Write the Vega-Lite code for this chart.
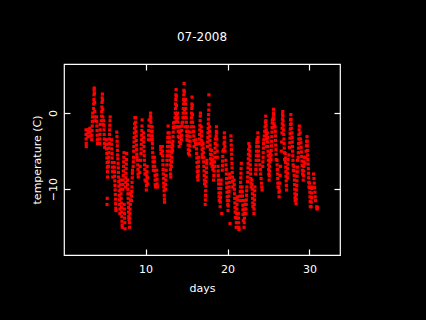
{
"$schema": "https://vega.github.io/schema/vega-lite/v6.json",
"width": 276, "height": 191,
"autosize": {"type": "none"},
"padding": {"left": 64, "top": 64, "right": 86, "bottom": 65},
"background": "black",
"config": {
  "view": {"stroke": "white", "strokeWidth": 1.2},
  "font": "DejaVu Sans",
  "axis": {"domain": false, "grid": false, "tickColor": "white", "tickSize": -6, "tickWidth": 1.2, "labelColor": "white", "labelFontSize": 11, "labelFont": "DejaVu Sans", "titleColor": "white", "titleFontSize": 11, "titleFontWeight": "normal", "titleFont": "DejaVu Sans"}
},
"title": {"text": "07-2008", "color": "white", "fontSize": 12, "fontWeight": "normal", "font": "DejaVu Sans", "offset": 19, "anchor": "middle"},
"data": {"values": [
{"day":2.74,"temp":-2.2},{"day":2.75,"temp":-2.8},{"day":2.76,"temp":-3.4},{"day":2.77,"temp":-4.0},{"day":2.78,"temp":-4.4},
{"day":2.97,"temp":-3.1},{"day":2.99,"temp":-2.6},{"day":3.01,"temp":-2.2},
{"day":3.21,"temp":-2.0},{"day":3.23,"temp":-2.5},{"day":3.25,"temp":-3.0},
{"day":3.44,"temp":-3.5},{"day":3.46,"temp":-2.9},{"day":3.48,"temp":-2.3},{"day":3.50,"temp":-1.7},{"day":3.52,"temp":-1.1},{"day":3.54,"temp":-0.5},{"day":3.56,"temp":0.0},
{"day":3.66,"temp":0.6},{"day":3.68,"temp":1.2},{"day":3.70,"temp":1.8},{"day":3.72,"temp":2.4},{"day":3.74,"temp":3.0},{"day":3.75,"temp":3.3},{"day":3.77,"temp":2.6},{"day":3.79,"temp":1.4},{"day":3.81,"temp":0.2},{"day":3.83,"temp":-0.5},{"day":3.85,"temp":-1.0},
{"day":4.03,"temp":-0.5},{"day":4.05,"temp":-1.1},{"day":4.07,"temp":-1.7},{"day":4.09,"temp":-2.3},{"day":4.11,"temp":-2.9},{"day":4.13,"temp":-3.5},{"day":4.15,"temp":-4.0},
{"day":4.40,"temp":-4.0},{"day":4.42,"temp":-3.4},{"day":4.44,"temp":-2.8},{"day":4.46,"temp":-2.2},{"day":4.48,"temp":-1.5},
{"day":4.62,"temp":-1.0},{"day":4.64,"temp":-0.4},{"day":4.66,"temp":0.2},{"day":4.68,"temp":0.8},{"day":4.70,"temp":1.4},{"day":4.72,"temp":2.0},{"day":4.74,"temp":2.5},{"day":4.76,"temp":1.7},{"day":4.78,"temp":0.5},{"day":4.80,"temp":-0.5},{"day":4.82,"temp":-1.5},
{"day":4.90,"temp":-1.0},{"day":4.92,"temp":-1.6},{"day":4.94,"temp":-2.2},{"day":4.96,"temp":-2.8},{"day":4.98,"temp":-3.4},{"day":5.00,"temp":-4.0},{"day":5.02,"temp":-4.5},
{"day":5.22,"temp":-3.5},{"day":5.24,"temp":-4.1},{"day":5.26,"temp":-4.7},{"day":5.28,"temp":-5.3},{"day":5.30,"temp":-5.9},{"day":5.32,"temp":-6.5},{"day":5.34,"temp":-7.1},{"day":5.36,"temp":-7.7},{"day":5.38,"temp":-8.4},{"day":5.31,"temp":-12.0},{"day":5.33,"temp":-11.2},
{"day":5.47,"temp":-7.0},{"day":5.49,"temp":-6.4},{"day":5.51,"temp":-5.8},{"day":5.53,"temp":-5.2},{"day":5.55,"temp":-4.6},{"day":5.57,"temp":-4.0},{"day":5.59,"temp":-3.4},{"day":5.61,"temp":-2.8},{"day":5.63,"temp":-2.2},{"day":5.65,"temp":-1.6},{"day":5.67,"temp":-1.0},{"day":5.69,"temp":-0.5},
{"day":5.85,"temp":-3.5},{"day":5.87,"temp":-4.1},{"day":5.89,"temp":-4.7},{"day":5.91,"temp":-5.3},{"day":5.93,"temp":-5.9},{"day":5.95,"temp":-6.5},{"day":5.97,"temp":-7.1},{"day":5.99,"temp":-7.7},{"day":6.01,"temp":-8.4},
{"day":6.18,"temp":-6.5},{"day":6.20,"temp":-7.1},{"day":6.22,"temp":-7.7},{"day":6.24,"temp":-8.3},{"day":6.26,"temp":-8.9},{"day":6.28,"temp":-9.5},{"day":6.30,"temp":-10.1},{"day":6.32,"temp":-10.7},{"day":6.34,"temp":-11.3},{"day":6.36,"temp":-11.9},{"day":6.38,"temp":-12.5},{"day":6.40,"temp":-12.8},
{"day":6.50,"temp":-2.5},{"day":6.52,"temp":-3.1},{"day":6.54,"temp":-3.7},{"day":6.56,"temp":-4.3},{"day":6.58,"temp":-4.9},{"day":6.60,"temp":-5.5},{"day":6.62,"temp":-6.0},
{"day":6.66,"temp":-6.6},{"day":6.68,"temp":-7.2},{"day":6.70,"temp":-7.8},{"day":6.72,"temp":-8.4},{"day":6.74,"temp":-9.0},{"day":6.76,"temp":-9.6},{"day":6.78,"temp":-10.2},{"day":6.80,"temp":-10.8},{"day":6.82,"temp":-11.4},{"day":6.84,"temp":-12.0},{"day":6.86,"temp":-12.6},{"day":6.88,"temp":-13.2},
{"day":6.95,"temp":-8.8},{"day":6.97,"temp":-9.4},{"day":6.99,"temp":-10.0},{"day":7.01,"temp":-10.6},{"day":7.03,"temp":-11.2},{"day":7.05,"temp":-11.8},{"day":7.07,"temp":-12.4},{"day":7.09,"temp":-13.0},{"day":7.11,"temp":-13.6},{"day":7.13,"temp":-14.2},{"day":7.15,"temp":-14.7},{"day":7.17,"temp":-15.0},
{"day":7.22,"temp":-10.0},{"day":7.24,"temp":-9.4},{"day":7.26,"temp":-8.8},{"day":7.28,"temp":-8.2},{"day":7.30,"temp":-7.6},{"day":7.32,"temp":-7.0},{"day":7.34,"temp":-6.4},{"day":7.36,"temp":-5.8},{"day":7.38,"temp":-5.2},
{"day":7.40,"temp":-12.0},{"day":7.42,"temp":-12.6},{"day":7.44,"temp":-13.2},{"day":7.46,"temp":-13.8},{"day":7.48,"temp":-14.4},{"day":7.50,"temp":-15.2},
{"day":7.56,"temp":-9.7},{"day":7.58,"temp":-9.1},{"day":7.60,"temp":-8.5},{"day":7.62,"temp":-7.9},{"day":7.64,"temp":-7.3},{"day":7.66,"temp":-6.7},{"day":7.68,"temp":-6.1},{"day":7.70,"temp":-5.3},
{"day":7.80,"temp":-8.8},{"day":7.82,"temp":-9.4},{"day":7.84,"temp":-10.0},{"day":7.86,"temp":-10.6},{"day":7.88,"temp":-11.2},{"day":7.90,"temp":-11.8},{"day":7.92,"temp":-12.4},{"day":7.94,"temp":-13.0},{"day":7.96,"temp":-13.6},{"day":7.98,"temp":-14.0},
{"day":8.04,"temp":-15.0},{"day":8.06,"temp":-14.4},{"day":8.08,"temp":-13.8},{"day":8.10,"temp":-13.2},{"day":8.12,"temp":-12.6},{"day":8.14,"temp":-12.0},{"day":8.16,"temp":-11.4},{"day":8.18,"temp":-10.6},
{"day":8.28,"temp":-11.5},{"day":8.30,"temp":-10.9},{"day":8.32,"temp":-10.3},{"day":8.34,"temp":-9.7},{"day":8.36,"temp":-9.1},{"day":8.38,"temp":-8.5},{"day":8.40,"temp":-7.9},{"day":8.42,"temp":-7.5},
{"day":8.50,"temp":-7.0},{"day":8.52,"temp":-6.4},{"day":8.54,"temp":-5.8},{"day":8.56,"temp":-5.0},{"day":8.58,"temp":-4.4},{"day":8.60,"temp":-3.8},{"day":8.62,"temp":-3.2},{"day":8.64,"temp":-2.6},{"day":8.66,"temp":-2.0},{"day":8.68,"temp":-1.4},{"day":8.70,"temp":-0.6},
{"day":8.78,"temp":-0.6},{"day":8.80,"temp":-1.2},{"day":8.82,"temp":-1.8},{"day":8.84,"temp":-2.4},{"day":8.86,"temp":-3.0},{"day":8.88,"temp":-3.6},{"day":8.90,"temp":-4.2},{"day":8.92,"temp":-4.8},{"day":8.94,"temp":-5.4},{"day":8.96,"temp":-5.8},
{"day":9.04,"temp":-6.2},{"day":9.06,"temp":-6.8},{"day":9.08,"temp":-7.4},{"day":9.10,"temp":-8.0},{"day":9.12,"temp":-8.4},
{"day":9.30,"temp":-7.8},{"day":9.35,"temp":-7.0},{"day":9.40,"temp":-6.2},{"day":9.45,"temp":-5.3},{"day":9.47,"temp":-4.7},{"day":9.49,"temp":-4.1},{"day":9.51,"temp":-3.5},{"day":9.53,"temp":-2.9},{"day":9.55,"temp":-2.3},{"day":9.57,"temp":-1.7},{"day":9.59,"temp":-0.9},
{"day":9.75,"temp":-2.6},{"day":9.77,"temp":-3.2},{"day":9.79,"temp":-3.8},{"day":9.81,"temp":-4.4},{"day":9.83,"temp":-5.0},{"day":9.85,"temp":-5.6},{"day":9.87,"temp":-6.2},{"day":9.89,"temp":-6.8},{"day":9.91,"temp":-7.4},{"day":9.93,"temp":-8.0},{"day":9.95,"temp":-8.8},
{"day":10.05,"temp":-8.0},{"day":10.07,"temp":-9.0},{"day":10.10,"temp":-10.1},{"day":10.12,"temp":-9.5},{"day":10.14,"temp":-8.9},{"day":10.16,"temp":-8.3},{"day":10.18,"temp":-7.7},{"day":10.20,"temp":-7.0},{"day":10.25,"temp":-8.5},{"day":10.27,"temp":-9.3},
{"day":10.36,"temp":-3.5},{"day":10.38,"temp":-2.9},{"day":10.40,"temp":-2.3},{"day":10.42,"temp":-1.7},{"day":10.44,"temp":-0.9},
{"day":10.58,"temp":-1.0},{"day":10.60,"temp":-0.4},{"day":10.62,"temp":0.0},{"day":10.64,"temp":-0.6},{"day":10.66,"temp":-1.2},{"day":10.68,"temp":-1.8},{"day":10.70,"temp":-2.4},{"day":10.72,"temp":-3.0},{"day":10.74,"temp":-3.5},
{"day":10.80,"temp":-1.8},{"day":10.81,"temp":-2.4},{"day":10.82,"temp":-3.0},{"day":10.83,"temp":-3.5},{"day":10.84,"temp":-4.0},{"day":10.86,"temp":-4.6},{"day":10.88,"temp":-5.2},{"day":10.90,"temp":-5.8},{"day":10.92,"temp":-6.4},{"day":10.94,"temp":-7.0},{"day":10.96,"temp":-7.5},
{"day":11.08,"temp":-5.8},{"day":11.10,"temp":-6.4},{"day":11.12,"temp":-7.0},{"day":11.14,"temp":-7.6},{"day":11.16,"temp":-8.2},{"day":11.18,"temp":-8.8},{"day":11.20,"temp":-9.4},{"day":11.22,"temp":-9.7},
{"day":11.36,"temp":-7.5},{"day":11.38,"temp":-8.1},{"day":11.40,"temp":-8.7},{"day":11.42,"temp":-9.3},{"day":11.44,"temp":-9.7},
{"day":11.85,"temp":-4.4},{"day":11.87,"temp":-4.8},{"day":11.89,"temp":-5.3},
{"day":12.05,"temp":-4.4},{"day":12.07,"temp":-5.0},{"day":12.09,"temp":-5.6},{"day":12.11,"temp":-6.2},{"day":12.13,"temp":-6.8},{"day":12.15,"temp":-7.4},{"day":12.17,"temp":-8.0},{"day":12.19,"temp":-8.6},{"day":12.21,"temp":-9.2},{"day":12.23,"temp":-9.7},
{"day":12.27,"temp":-10.2},{"day":12.29,"temp":-10.8},{"day":12.31,"temp":-11.3},{"day":12.33,"temp":-11.7},
{"day":12.44,"temp":-10.0},{"day":12.46,"temp":-9.4},{"day":12.48,"temp":-8.8},{"day":12.50,"temp":-8.2},{"day":12.52,"temp":-7.5},
{"day":12.60,"temp":-6.8},{"day":12.62,"temp":-6.2},{"day":12.64,"temp":-5.6},{"day":12.66,"temp":-5.0},{"day":12.68,"temp":-4.4},{"day":12.70,"temp":-3.8},{"day":12.72,"temp":-3.2},{"day":12.74,"temp":-2.6},{"day":12.76,"temp":-1.7},
{"day":12.88,"temp":-2.6},{"day":12.90,"temp":-3.2},{"day":12.92,"temp":-3.8},{"day":12.94,"temp":-4.4},{"day":12.96,"temp":-5.0},{"day":12.98,"temp":-5.6},{"day":13.00,"temp":-6.2},{"day":13.02,"temp":-6.8},{"day":13.04,"temp":-7.4},{"day":13.06,"temp":-8.0},{"day":13.08,"temp":-8.4},
{"day":13.16,"temp":-7.0},{"day":13.18,"temp":-6.4},{"day":13.20,"temp":-5.8},{"day":13.22,"temp":-5.2},{"day":13.24,"temp":-4.6},{"day":13.26,"temp":-4.0},
{"day":13.30,"temp":-4.9},{"day":13.32,"temp":-4.3},{"day":13.34,"temp":-3.7},{"day":13.36,"temp":-3.1},{"day":13.38,"temp":-2.5},{"day":13.40,"temp":-1.9},{"day":13.42,"temp":-1.3},
{"day":13.52,"temp":-1.8},{"day":13.56,"temp":-1.2},{"day":13.60,"temp":-0.6},{"day":13.63,"temp":0.0},{"day":13.65,"temp":0.6},{"day":13.67,"temp":1.2},{"day":13.69,"temp":1.8},{"day":13.71,"temp":2.4},{"day":13.73,"temp":3.1},{"day":13.75,"temp":2.2},{"day":13.77,"temp":1.0},{"day":13.79,"temp":-0.2},{"day":13.81,"temp":-1.0},{"day":13.83,"temp":-1.8},
{"day":13.90,"temp":0.0},{"day":13.92,"temp":-0.6},{"day":13.94,"temp":-1.2},{"day":13.96,"temp":-1.8},{"day":13.98,"temp":-2.4},{"day":14.00,"temp":-3.1},
{"day":14.10,"temp":-4.4},{"day":14.12,"temp":-3.8},{"day":14.14,"temp":-3.2},{"day":14.16,"temp":-2.6},{"day":14.18,"temp":-1.8},{"day":14.24,"temp":-2.4},{"day":14.26,"temp":-3.2},{"day":14.28,"temp":-4.0},
{"day":14.38,"temp":-3.5},{"day":14.40,"temp":-2.9},{"day":14.42,"temp":-2.3},{"day":14.44,"temp":-1.7},{"day":14.46,"temp":-1.3},
{"day":14.54,"temp":-1.2},{"day":14.57,"temp":-0.6},{"day":14.59,"temp":0.0},{"day":14.61,"temp":0.6},{"day":14.63,"temp":1.2},{"day":14.65,"temp":1.8},{"day":14.67,"temp":2.4},{"day":14.69,"temp":3.0},{"day":14.71,"temp":3.9},{"day":14.73,"temp":2.8},{"day":14.75,"temp":1.6},{"day":14.77,"temp":0.4},{"day":14.79,"temp":-0.6},{"day":14.81,"temp":-1.8},
{"day":14.88,"temp":1.8},{"day":14.90,"temp":1.2},{"day":14.92,"temp":0.6},{"day":14.94,"temp":0.0},{"day":14.96,"temp":-0.6},{"day":14.98,"temp":-1.2},{"day":15.00,"temp":-1.8},{"day":15.02,"temp":-2.4},{"day":15.04,"temp":-3.0},{"day":15.06,"temp":-3.5},
{"day":15.12,"temp":-1.8},{"day":15.14,"temp":-2.4},{"day":15.16,"temp":-3.0},{"day":15.18,"temp":-3.6},{"day":15.20,"temp":-4.2},{"day":15.22,"temp":-4.8},{"day":15.24,"temp":-5.3},
{"day":15.36,"temp":-5.5},{"day":15.38,"temp":-4.9},{"day":15.40,"temp":-4.3},{"day":15.42,"temp":-3.7},{"day":15.44,"temp":-3.1},{"day":15.46,"temp":-2.5},
{"day":15.56,"temp":-1.8},{"day":15.58,"temp":-1.2},{"day":15.60,"temp":-0.6},{"day":15.62,"temp":0.0},{"day":15.64,"temp":0.6},{"day":15.66,"temp":1.2},{"day":15.68,"temp":2.1},{"day":15.70,"temp":1.0},{"day":15.72,"temp":-0.2},{"day":15.74,"temp":-1.2},
{"day":15.84,"temp":-1.8},{"day":15.86,"temp":-2.4},{"day":15.88,"temp":-3.0},{"day":15.90,"temp":-3.6},{"day":15.92,"temp":-4.4},
{"day":16.10,"temp":-4.0},{"day":16.15,"temp":-3.5},{"day":16.20,"temp":-4.1},{"day":16.22,"temp":-4.7},{"day":16.24,"temp":-5.3},{"day":16.26,"temp":-5.9},{"day":16.28,"temp":-6.5},{"day":16.30,"temp":-7.1},{"day":16.32,"temp":-7.7},{"day":16.34,"temp":-8.4},
{"day":16.40,"temp":-8.8},{"day":16.42,"temp":-8.2},{"day":16.44,"temp":-7.6},{"day":16.46,"temp":-7.0},{"day":16.48,"temp":-6.4},{"day":16.50,"temp":-5.8},
{"day":16.56,"temp":-4.0},{"day":16.58,"temp":-3.4},{"day":16.60,"temp":-2.8},{"day":16.62,"temp":-2.2},{"day":16.64,"temp":-1.6},{"day":16.66,"temp":-1.0},{"day":16.68,"temp":-0.4},{"day":16.70,"temp":0.0},
{"day":16.80,"temp":-1.8},{"day":16.82,"temp":-2.4},{"day":16.84,"temp":-3.0},{"day":16.86,"temp":-3.6},{"day":16.88,"temp":-4.2},{"day":16.90,"temp":-4.8},{"day":16.92,"temp":-5.4},{"day":16.94,"temp":-5.8},
{"day":17.02,"temp":-4.0},{"day":17.04,"temp":-4.6},{"day":17.06,"temp":-5.2},{"day":17.08,"temp":-5.8},{"day":17.10,"temp":-6.4},{"day":17.12,"temp":-7.0},{"day":17.14,"temp":-7.6},{"day":17.16,"temp":-8.2},{"day":17.18,"temp":-8.8},{"day":17.20,"temp":-9.3},
{"day":17.28,"temp":-12.0},{"day":17.30,"temp":-11.4},{"day":17.32,"temp":-10.8},{"day":17.34,"temp":-10.2},{"day":17.36,"temp":-9.6},{"day":17.38,"temp":-9.0},{"day":17.40,"temp":-8.4},{"day":17.42,"temp":-7.8},{"day":17.44,"temp":-7.2},{"day":17.46,"temp":-6.6},{"day":17.48,"temp":-6.2},
{"day":17.56,"temp":-4.4},{"day":17.58,"temp":-3.8},{"day":17.60,"temp":-3.2},{"day":17.62,"temp":-2.6},{"day":17.64,"temp":-2.0},{"day":17.66,"temp":-1.4},{"day":17.68,"temp":-0.8},{"day":17.70,"temp":-0.2},{"day":17.72,"temp":0.4},{"day":17.74,"temp":1.1},{"day":17.73,"temp":2.4},
{"day":17.80,"temp":-1.8},{"day":17.82,"temp":-2.4},{"day":17.84,"temp":-3.0},{"day":17.86,"temp":-3.6},{"day":17.88,"temp":-4.2},{"day":17.90,"temp":-4.8},{"day":17.92,"temp":-5.4},{"day":17.94,"temp":-6.0},{"day":17.96,"temp":-6.6},
{"day":18.04,"temp":-4.9},{"day":18.06,"temp":-5.5},{"day":18.08,"temp":-6.1},{"day":18.10,"temp":-6.6},{"day":18.12,"temp":-7.0},{"day":18.15,"temp":-6.2},{"day":18.18,"temp":-6.8},{"day":18.22,"temp":-7.4},
{"day":18.30,"temp":-8.8},{"day":18.33,"temp":-8.2},{"day":18.36,"temp":-7.6},{"day":18.40,"temp":-7.0},{"day":18.42,"temp":-6.4},{"day":18.44,"temp":-5.8},{"day":18.46,"temp":-5.2},{"day":18.48,"temp":-4.6},{"day":18.50,"temp":-4.0},{"day":18.52,"temp":-3.4},
{"day":18.62,"temp":-3.0},{"day":18.64,"temp":-2.4},{"day":18.66,"temp":-1.8},{"day":18.68,"temp":-2.6},{"day":18.70,"temp":-3.4},{"day":18.72,"temp":-4.2},{"day":18.74,"temp":-5.0},{"day":18.76,"temp":-5.8},
{"day":18.84,"temp":-7.0},{"day":18.86,"temp":-7.6},{"day":18.88,"temp":-8.2},{"day":18.90,"temp":-8.8},{"day":18.92,"temp":-9.3},{"day":18.94,"temp":-9.9},{"day":18.96,"temp":-10.5},{"day":18.98,"temp":-11.0},{"day":19.00,"temp":-11.5},
{"day":19.10,"temp":-12.3},{"day":19.12,"temp":-11.7},{"day":19.14,"temp":-11.1},{"day":19.16,"temp":-10.5},{"day":19.18,"temp":-9.9},{"day":19.20,"temp":-9.3},{"day":19.22,"temp":-8.8},
{"day":19.30,"temp":-13.2},{"day":19.36,"temp":-7.5},{"day":19.38,"temp":-6.9},{"day":19.40,"temp":-6.3},{"day":19.42,"temp":-5.7},{"day":19.44,"temp":-5.0},
{"day":19.55,"temp":-4.8},{"day":19.58,"temp":-4.0},{"day":19.60,"temp":-3.2},{"day":19.62,"temp":-2.6},{"day":19.64,"temp":-3.2},{"day":19.66,"temp":-3.8},{"day":19.68,"temp":-4.4},{"day":19.70,"temp":-5.0},
{"day":19.80,"temp":-6.2},{"day":19.82,"temp":-6.8},{"day":19.84,"temp":-7.4},{"day":19.86,"temp":-8.0},{"day":19.88,"temp":-8.6},{"day":19.90,"temp":-9.2},{"day":19.92,"temp":-9.8},{"day":19.94,"temp":-10.4},{"day":19.96,"temp":-11.0},{"day":19.98,"temp":-11.5},
{"day":20.04,"temp":-12.0},{"day":20.06,"temp":-12.8},{"day":20.08,"temp":-12.2},
{"day":20.14,"temp":-11.5},{"day":20.16,"temp":-10.9},{"day":20.18,"temp":-10.3},{"day":20.20,"temp":-9.7},{"day":20.22,"temp":-9.1},{"day":20.24,"temp":-8.5},{"day":20.26,"temp":-8.0},{"day":20.30,"temp":-14.5},
{"day":20.42,"temp":-3.0},{"day":20.44,"temp":-3.6},{"day":20.46,"temp":-4.2},{"day":20.48,"temp":-4.8},{"day":20.50,"temp":-5.4},{"day":20.52,"temp":-6.0},{"day":20.54,"temp":-6.6},{"day":20.56,"temp":-7.2},{"day":20.58,"temp":-7.8},{"day":20.60,"temp":-8.4},{"day":20.62,"temp":-9.0},{"day":20.64,"temp":-9.7},
{"day":20.80,"temp":-8.8},{"day":20.82,"temp":-9.4},{"day":20.84,"temp":-10.0},{"day":20.86,"temp":-10.6},{"day":20.88,"temp":-11.2},{"day":20.90,"temp":-11.8},{"day":20.92,"temp":-12.4},{"day":20.94,"temp":-13.0},{"day":20.96,"temp":-13.7},
{"day":21.06,"temp":-15.0},{"day":21.08,"temp":-14.4},{"day":21.10,"temp":-13.8},{"day":21.12,"temp":-13.2},{"day":21.14,"temp":-12.6},{"day":21.16,"temp":-12.0},{"day":21.18,"temp":-11.4},{"day":21.20,"temp":-11.0},
{"day":21.32,"temp":-13.2},{"day":21.34,"temp":-13.8},{"day":21.36,"temp":-14.4},{"day":21.38,"temp":-15.0},{"day":21.40,"temp":-15.3},
{"day":21.52,"temp":-11.5},{"day":21.54,"temp":-10.9},{"day":21.56,"temp":-10.3},{"day":21.58,"temp":-9.7},{"day":21.60,"temp":-9.1},{"day":21.62,"temp":-8.5},{"day":21.64,"temp":-7.9},{"day":21.66,"temp":-7.3},{"day":21.68,"temp":-6.6},
{"day":21.78,"temp":-9.7},{"day":21.80,"temp":-10.3},{"day":21.82,"temp":-10.9},{"day":21.84,"temp":-11.5},{"day":21.86,"temp":-12.1},{"day":21.88,"temp":-12.7},{"day":21.90,"temp":-13.3},{"day":21.92,"temp":-14.1},
{"day":22.02,"temp":-15.0},{"day":22.04,"temp":-14.4},{"day":22.06,"temp":-13.8},{"day":22.08,"temp":-13.2},{"day":22.10,"temp":-12.6},{"day":22.12,"temp":-12.0},{"day":22.14,"temp":-11.5},
{"day":22.24,"temp":-13.2},{"day":22.26,"temp":-12.6},{"day":22.28,"temp":-12.0},{"day":22.30,"temp":-11.4},{"day":22.32,"temp":-10.8},{"day":22.34,"temp":-10.2},{"day":22.36,"temp":-9.7},
{"day":22.44,"temp":-9.0},{"day":22.46,"temp":-8.4},{"day":22.48,"temp":-7.8},{"day":22.50,"temp":-7.2},{"day":22.52,"temp":-6.6},{"day":22.54,"temp":-6.0},{"day":22.56,"temp":-5.4},{"day":22.58,"temp":-4.8},{"day":22.60,"temp":-4.0},
{"day":22.70,"temp":-4.4},{"day":22.72,"temp":-5.0},{"day":22.74,"temp":-5.6},{"day":22.76,"temp":-6.2},{"day":22.78,"temp":-6.8},{"day":22.80,"temp":-7.4},{"day":22.82,"temp":-8.0},{"day":22.84,"temp":-8.6},{"day":22.86,"temp":-9.2},{"day":22.88,"temp":-9.7},
{"day":22.98,"temp":-8.8},{"day":23.00,"temp":-9.4},{"day":23.02,"temp":-10.0},{"day":23.04,"temp":-10.6},{"day":23.06,"temp":-11.2},{"day":23.08,"temp":-11.8},{"day":23.10,"temp":-12.3},
{"day":23.22,"temp":-13.2},{"day":23.24,"temp":-12.6},{"day":23.26,"temp":-12.0},{"day":23.28,"temp":-11.4},{"day":23.30,"temp":-10.8},{"day":23.32,"temp":-10.2},{"day":23.34,"temp":-9.7},
{"day":23.44,"temp":-8.0},{"day":23.46,"temp":-7.4},{"day":23.48,"temp":-6.8},{"day":23.50,"temp":-6.2},{"day":23.52,"temp":-5.6},{"day":23.54,"temp":-5.0},{"day":23.56,"temp":-4.4},{"day":23.58,"temp":-3.9},{"day":23.60,"temp":-3.5},
{"day":23.70,"temp":-2.6},{"day":23.72,"temp":-3.2},{"day":23.74,"temp":-3.8},{"day":23.76,"temp":-4.4},{"day":23.78,"temp":-5.0},{"day":23.80,"temp":-5.6},{"day":23.82,"temp":-6.2},
{"day":23.95,"temp":-6.8},{"day":24.00,"temp":-7.4},{"day":24.05,"temp":-8.0},{"day":24.10,"temp":-8.6},{"day":24.14,"temp":-9.2},{"day":24.18,"temp":-9.7},{"day":24.22,"temp":-10.1},
{"day":24.30,"temp":-7.0},{"day":24.32,"temp":-6.4},{"day":24.34,"temp":-5.8},{"day":24.36,"temp":-5.2},{"day":24.38,"temp":-4.6},{"day":24.40,"temp":-4.0},{"day":24.42,"temp":-3.5},
{"day":24.50,"temp":-3.0},{"day":24.54,"temp":-2.4},{"day":24.58,"temp":-1.8},{"day":24.62,"temp":-1.2},{"day":24.66,"temp":-0.4},{"day":24.68,"temp":-1.0},{"day":24.70,"temp":-1.6},{"day":24.72,"temp":-2.2},{"day":24.74,"temp":-2.8},{"day":24.76,"temp":-3.4},{"day":24.78,"temp":-4.4},
{"day":24.86,"temp":-2.6},{"day":24.88,"temp":-3.2},{"day":24.90,"temp":-3.8},{"day":24.92,"temp":-4.4},{"day":24.94,"temp":-5.0},{"day":24.96,"temp":-5.6},{"day":24.98,"temp":-6.2},{"day":25.00,"temp":-6.8},{"day":25.02,"temp":-7.4},{"day":25.04,"temp":-8.0},
{"day":25.08,"temp":-8.8},{"day":25.10,"temp":-8.2},{"day":25.12,"temp":-7.6},{"day":25.14,"temp":-7.0},{"day":25.16,"temp":-6.4},{"day":25.18,"temp":-5.8},{"day":25.20,"temp":-5.3},
{"day":25.30,"temp":-6.1},{"day":25.32,"temp":-5.5},{"day":25.34,"temp":-4.9},{"day":25.36,"temp":-4.3},{"day":25.38,"temp":-3.7},{"day":25.40,"temp":-3.1},{"day":25.42,"temp":-2.5},{"day":25.44,"temp":-1.9},{"day":25.46,"temp":-1.3},{"day":25.48,"temp":-0.9},
{"day":25.58,"temp":-0.6},{"day":25.60,"temp":0.0},{"day":25.62,"temp":0.5},{"day":25.64,"temp":-0.2},{"day":25.66,"temp":-0.8},{"day":25.68,"temp":-1.4},{"day":25.70,"temp":-1.8},
{"day":25.80,"temp":-1.8},{"day":25.82,"temp":-2.4},{"day":25.84,"temp":-3.0},{"day":25.86,"temp":-3.6},{"day":25.88,"temp":-4.2},{"day":25.90,"temp":-4.8},{"day":25.92,"temp":-5.4},{"day":25.94,"temp":-6.1},
{"day":26.04,"temp":-6.2},{"day":26.06,"temp":-6.8},{"day":26.08,"temp":-7.4},{"day":26.10,"temp":-8.0},{"day":26.12,"temp":-8.6},{"day":26.14,"temp":-9.2},{"day":26.16,"temp":-9.7},
{"day":26.26,"temp":-9.8},{"day":26.28,"temp":-10.4},{"day":26.30,"temp":-11.0},{"day":26.34,"temp":-10.2},{"day":26.38,"temp":-9.2},{"day":26.42,"temp":-8.2},{"day":26.46,"temp":-7.0},
{"day":26.56,"temp":-5.0},{"day":26.60,"temp":-3.8},{"day":26.64,"temp":-2.6},{"day":26.66,"temp":-2.0},{"day":26.68,"temp":-1.4},{"day":26.70,"temp":-0.8},{"day":26.72,"temp":-0.2},{"day":26.74,"temp":0.2},{"day":26.76,"temp":-0.4},{"day":26.78,"temp":-1.0},{"day":26.80,"temp":-1.6},
{"day":26.84,"temp":-2.2},{"day":26.86,"temp":-2.8},{"day":26.88,"temp":-3.4},{"day":26.90,"temp":-4.0},{"day":26.92,"temp":-4.6},{"day":26.94,"temp":-5.2},{"day":26.96,"temp":-6.1},
{"day":27.04,"temp":-5.3},{"day":27.06,"temp":-5.9},{"day":27.08,"temp":-6.5},{"day":27.10,"temp":-7.1},{"day":27.12,"temp":-7.7},{"day":27.14,"temp":-8.3},{"day":27.16,"temp":-8.9},{"day":27.18,"temp":-9.5},{"day":27.20,"temp":-10.1},
{"day":27.30,"temp":-8.5},{"day":27.32,"temp":-7.9},{"day":27.34,"temp":-7.3},{"day":27.36,"temp":-6.7},{"day":27.38,"temp":-6.1},
{"day":27.50,"temp":-5.5},{"day":27.55,"temp":-4.5},{"day":27.60,"temp":-3.9},{"day":27.62,"temp":-3.3},{"day":27.64,"temp":-2.7},{"day":27.66,"temp":-2.1},{"day":27.68,"temp":-1.5},{"day":27.70,"temp":-0.9},{"day":27.72,"temp":-0.2},{"day":27.74,"temp":-0.8},{"day":27.76,"temp":-1.4},{"day":27.78,"temp":-2.0},
{"day":27.86,"temp":-2.6},{"day":27.88,"temp":-3.2},{"day":27.90,"temp":-3.8},{"day":27.92,"temp":-4.4},{"day":27.94,"temp":-5.0},{"day":27.96,"temp":-5.6},{"day":27.98,"temp":-6.2},{"day":28.00,"temp":-6.8},{"day":28.02,"temp":-7.5},
{"day":28.10,"temp":-7.0},{"day":28.12,"temp":-7.6},{"day":28.14,"temp":-8.2},{"day":28.16,"temp":-8.8},{"day":28.18,"temp":-9.4},{"day":28.20,"temp":-10.0},{"day":28.22,"temp":-10.6},{"day":28.24,"temp":-11.1},{"day":28.26,"temp":-11.5},
{"day":28.36,"temp":-11.9},{"day":28.38,"temp":-11.3},{"day":28.40,"temp":-10.7},{"day":28.42,"temp":-10.1},{"day":28.44,"temp":-9.5},{"day":28.46,"temp":-8.9},{"day":28.48,"temp":-8.3},{"day":28.50,"temp":-7.7},{"day":28.52,"temp":-7.1},{"day":28.54,"temp":-6.2},
{"day":28.62,"temp":-5.8},{"day":28.64,"temp":-5.2},{"day":28.66,"temp":-4.6},{"day":28.68,"temp":-4.0},{"day":28.70,"temp":-3.4},{"day":28.72,"temp":-2.8},{"day":28.74,"temp":-2.2},{"day":28.76,"temp":-1.7},
{"day":28.86,"temp":-2.6},{"day":28.90,"temp":-3.4},{"day":28.95,"temp":-3.9},{"day":28.98,"temp":-4.5},{"day":29.01,"temp":-5.1},{"day":29.04,"temp":-5.7},{"day":29.07,"temp":-6.3},{"day":29.10,"temp":-6.9},{"day":29.13,"temp":-7.5},{"day":29.16,"temp":-8.0},
{"day":29.24,"temp":-8.8},{"day":29.26,"temp":-8.2},{"day":29.28,"temp":-7.6},{"day":29.30,"temp":-7.0},{"day":29.32,"temp":-6.4},{"day":29.34,"temp":-5.8},
{"day":29.46,"temp":-6.6},{"day":29.52,"temp":-5.8},{"day":29.58,"temp":-5.0},{"day":29.62,"temp":-4.3},{"day":29.66,"temp":-3.7},{"day":29.70,"temp":-3.1},{"day":29.72,"temp":-3.7},{"day":29.74,"temp":-4.3},{"day":29.76,"temp":-4.9},{"day":29.78,"temp":-5.5},{"day":29.80,"temp":-6.1},
{"day":29.84,"temp":-6.7},{"day":29.86,"temp":-7.3},{"day":29.88,"temp":-7.9},{"day":29.90,"temp":-8.5},{"day":29.92,"temp":-9.1},{"day":29.94,"temp":-9.7},
{"day":30.00,"temp":-9.2},{"day":30.02,"temp":-9.8},{"day":30.04,"temp":-10.4},{"day":30.06,"temp":-11.0},{"day":30.08,"temp":-11.6},{"day":30.10,"temp":-12.3},
{"day":30.20,"temp":-12.3},{"day":30.22,"temp":-11.7},{"day":30.24,"temp":-11.1},{"day":30.26,"temp":-10.5},{"day":30.28,"temp":-9.9},{"day":30.30,"temp":-9.7},
{"day":30.50,"temp":-8.0},{"day":30.54,"temp":-8.6},{"day":30.58,"temp":-9.2},{"day":30.62,"temp":-9.8},{"day":30.66,"temp":-10.4},{"day":30.70,"temp":-11.0},{"day":30.74,"temp":-11.5},
{"day":30.88,"temp":-12.3},{"day":30.91,"temp":-12.5},{"day":30.94,"temp":-12.6},{"day":30.97,"temp":-12.4}
]},
"layer": [
  {"mark": {"type": "point", "shape": "square", "filled": true, "size": 10, "color": "#ff0000", "opacity": 1},
   "encoding": {
     "x": {"field": "day", "type": "quantitative", "scale": {"domain": [0.06, 33.72], "nice": false, "zero": false},
           "axis": {"orient": "bottom", "values": [10, 20, 30], "title": "days", "labelPadding": 14, "titlePadding": 8}},
     "y": {"field": "temp", "type": "quantitative", "scale": {"domain": [-18.64, 6.45], "nice": false, "zero": false},
           "axis": {"orient": "left", "values": [0, -10], "title": "temperature (C)", "labelAngle": -90, "labelAlign": "center", "labelBaseline": "bottom", "labelPadding": 12, "titlePadding": 5}}
   }},
  {"mark": {"type": "point", "opacity": 0},
   "encoding": {
     "x": {"field": "day", "type": "quantitative", "axis": {"orient": "top", "values": [10, 20, 30], "labels": false, "title": null}},
     "y": {"field": "temp", "type": "quantitative", "axis": {"orient": "right", "values": [0, -10], "labels": false, "title": null}}
   }}
],
"resolve": {"axis": {"x": "independent", "y": "independent"}}
}
